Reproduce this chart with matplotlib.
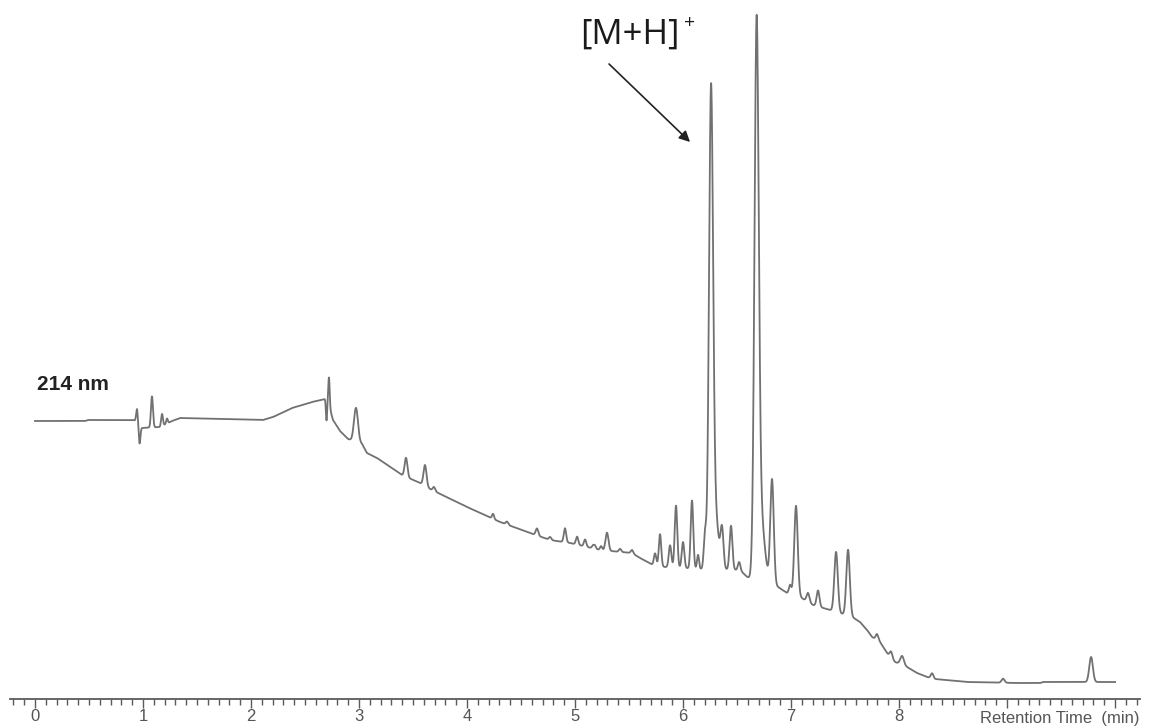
import numpy as np
import matplotlib
matplotlib.use("Agg")
import matplotlib.pyplot as plt
from matplotlib import font_manager, transforms
from matplotlib.ticker import MultipleLocator, FixedLocator, FixedFormatter

# UV trace at 214 nm: drifting baseline (retention time in min, signal in mAU)
baseline_time = [0.000, 0.463, 0.491, 0.907, 0.944, 0.981, 1.157, 1.269, 1.343,
                 2.111, 2.204, 2.380, 2.565, 2.685, 2.713, 2.759, 2.824, 2.898,
                 3.028, 3.074, 3.167, 3.398, 3.565, 3.657, 4.000, 4.306, 4.583,
                 4.769, 4.954, 5.231, 5.528, 5.602, 5.722, 5.833, 6.157, 6.528,
                 6.620, 6.778, 6.880, 6.963, 7.083, 7.204, 7.361, 7.565, 7.639,
                 7.704, 7.750, 7.824, 7.889, 7.963, 8.074, 8.167, 8.259, 8.333,
                 8.630, 9.093, 9.306, 9.333, 10.000]
baseline_signal = [279, 279, 280, 280, 279, 272, 273, 279, 282,
                   280, 283, 292, 298, 301, 298, 280, 269, 261,
                   256, 247, 242, 225, 217, 211, 193, 178, 167,
                   160, 157, 150, 147, 142, 135, 133, 131, 130,
                   120, 119, 113, 107, 103, 95, 90, 83, 78,
                   70, 63, 58, 47, 38, 33, 27, 23, 21,
                   18, 17, 17, 18, 18]

# Peak table: retention time (min), height above baseline (mAU), sigma (min)
peak_time = [0.944, 0.968, 1.083, 1.176, 1.222, 2.699, 2.722, 2.972, 3.435,
             3.611, 3.694, 4.241, 4.370, 4.648, 4.769, 4.907, 5.019, 5.093,
             5.167, 5.185, 5.241, 5.296, 5.417, 5.528, 5.741, 5.787, 5.880,
             5.935, 6.000, 6.083, 6.139, 6.204, 6.259, 6.292, 6.361, 6.444,
             6.519, 6.681, 6.713, 6.824, 6.991, 7.046, 7.157, 7.250, 7.417,
             7.528, 7.796, 7.926, 8.028, 8.306, 8.963, 9.778]
peak_height = [12, -18, 31, 12, 5, -20, 28, 34, 19,
               21, 4, 5, 3, 7, 3, 14, 8, 7,
               3, 3, 4, 18, 3, 3, 12, 32, 22,
               62, 26, 68, 14, 34, 450, 60, 38, 44,
               8, 517, 70, 104, 9, 90, 9, 16, 60,
               66, 6, 6, 9, 5, 4, 25]
peak_sigma = [0.0074, 0.0074, 0.0093, 0.0083, 0.0074, 0.0056, 0.0065, 0.0185, 0.0130,
              0.0139, 0.0110, 0.0093, 0.0110, 0.0120, 0.0110, 0.0110, 0.0110, 0.0110,
              0.0100, 0.0093, 0.0100, 0.0139, 0.0110, 0.0110, 0.0110, 0.0110, 0.0120,
              0.0120, 0.0120, 0.0120, 0.0093, 0.0120, 0.0185, 0.0324, 0.0139, 0.0130,
              0.0110, 0.0194, 0.0370, 0.0160, 0.0110, 0.0160, 0.0130, 0.0130, 0.0160,
              0.0160, 0.0120, 0.0120, 0.0167, 0.0120, 0.0139, 0.0167]

major_ticks = [0, 1, 2, 3, 4, 5, 6, 7, 8, 9, 10]
major_labels = ["0", "1", "2", "3", "4", "5", "6", "7", "8", "", ""]

# Build the chromatogram on a fine time grid
t = np.arange(0.0, 10.0005, 0.001)
signal = np.interp(t, baseline_time, baseline_signal)
for rt, h, s in zip(peak_time, peak_height, peak_sigma):
    signal = signal + h * np.exp(-0.5 * ((t - rt) / s) ** 2)

installed = {f.name for f in font_manager.fontManager.ttflist}
axis_font = "Liberation Sans" if "Liberation Sans" in installed else "DejaVu Sans"
ion_font = "Open Sans" if "Open Sans" in installed else "DejaVu Sans"

W, H = 1149, 727
fig = plt.figure(figsize=(W / 100, H / 100), dpi=100)
ax = fig.add_axes([10 / W, 28 / H, 1130 / W, 699 / H])

ax.plot(t, signal, color="#717171", lw=1.3, solid_joinstyle="round")

ax.set_xlim(-0.2315, 10.231)
ax.set_ylim(1, 700)

for side in ("left", "right", "top"):
    ax.spines[side].set_visible(False)
ax.spines["bottom"].set_color("#5a5a5a")
ax.spines["bottom"].set_linewidth(1.3)
ax.yaxis.set_visible(False)

ax.xaxis.set_major_locator(FixedLocator(major_ticks))
ax.xaxis.set_major_formatter(FixedFormatter(major_labels))
ax.xaxis.set_minor_locator(MultipleLocator(0.1))
ax.tick_params(axis="x", which="major", direction="out", length=6.5, width=1.0,
               color="#5a5a5a", pad=0.5, labelsize=12, labelcolor="#555555")
ax.tick_params(axis="x", which="minor", direction="out", length=4.3, width=1.0,
               color="#5a5a5a")
for lab in ax.get_xticklabels():
    lab.set_fontfamily(axis_font)

# axis title sits on the tick-label row at the right end
title_tr = transforms.offset_copy(ax.transAxes, fig=fig, x=0, y=-17.3, units="points")
ax.text(1.0, 0.0, "Retention Time  (min)", transform=title_tr, ha="right", va="baseline",
        fontsize=12, color="#555555", family=axis_font)

# wavelength label
ax.text(0.02, 310, "214 nm", fontsize=15, fontweight="bold", color="#222222",
        family=axis_font, ha="left", va="baseline")

# protonated molecular ion label with arrow
ax.text(5.046, 656, "[M+H]", fontsize=25, color="#1a1a1a", family=ion_font,
        ha="left", va="baseline")
ax.text(6.065, 677, "+", fontsize=14, color="#1a1a1a", family=ion_font,
        ha="center", va="center")
ax.annotate("", xy=(6.065, 558), xytext=(5.315, 636),
            arrowprops=dict(arrowstyle="-|>", color="#222222", lw=1.2,
                            mutation_scale=16, shrinkA=0, shrinkB=0))

fig.savefig("out.png", dpi=100, facecolor="white")
